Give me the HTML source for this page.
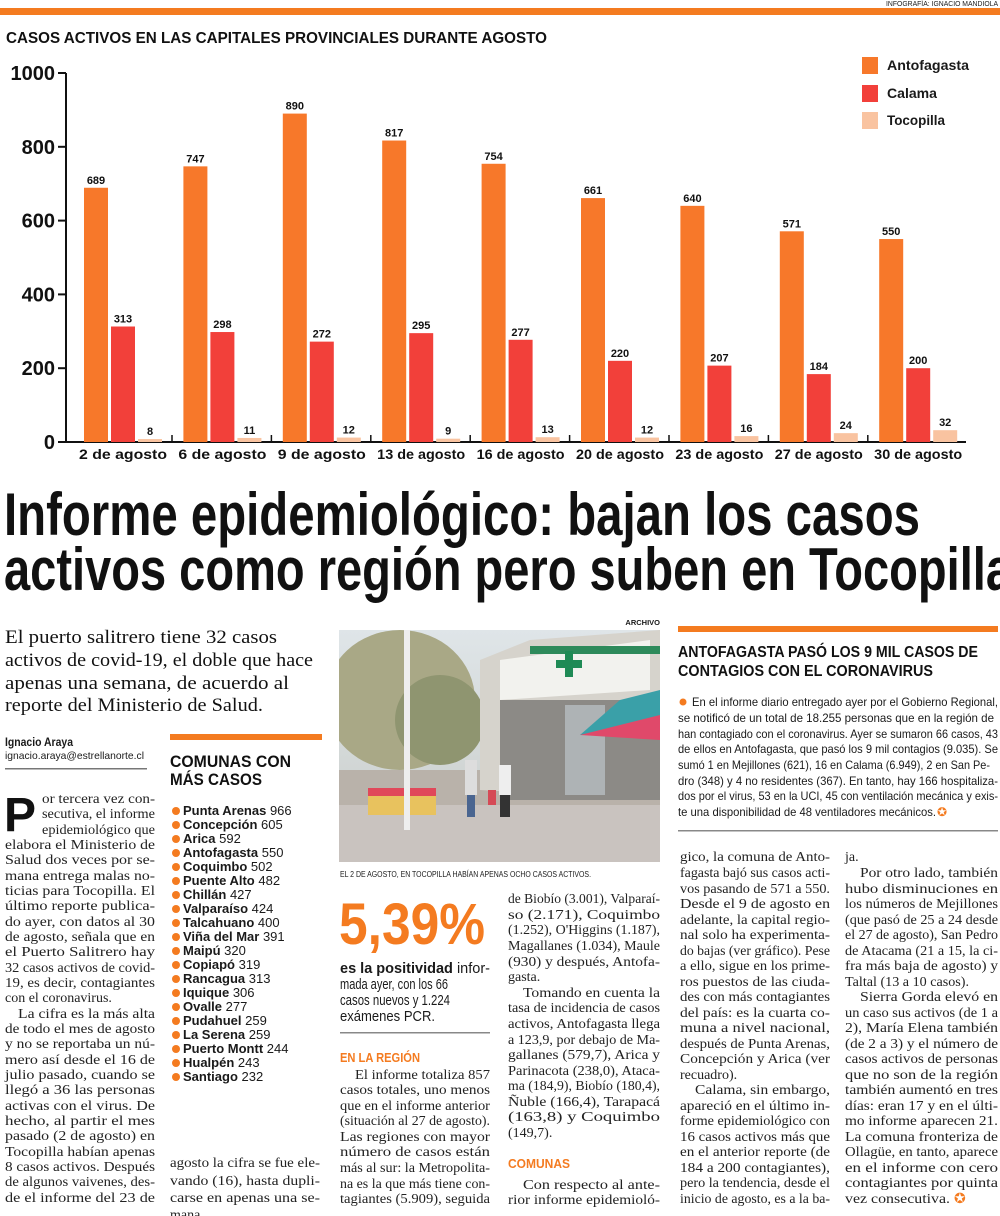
<!DOCTYPE html>
<html><head><meta charset="utf-8">
<style>
html,body{margin:0;padding:0;background:#fff;}
svg{display:block;}
.s{font-family:"Liberation Serif",serif;font-size:14px;fill:#222;}
.n{font-family:"Liberation Sans Narrow","Liberation Sans",sans-serif;fill:#1a1a1a;}
.h{font-family:"Liberation Sans",sans-serif;font-weight:bold;fill:#111;}
.b{font-weight:bold;}
.o{fill:#f47b20;}
</style></head>
<body>
<svg id="page" width="1000" height="1216" viewBox="0 0 1000 1216" xmlns="http://www.w3.org/2000/svg">
<text class="n" x="998" y="6" font-size="7" text-anchor="end" textLength="112" lengthAdjust="spacingAndGlyphs">INFOGRAFÍA: IGNACIO MANDIOLA</text>
<rect x="0" y="8" width="1000" height="7" fill="#f47b20"/>
<text class="h" x="6" y="43" font-size="16" textLength="541" lengthAdjust="spacingAndGlyphs">CASOS ACTIVOS EN LAS CAPITALES PROVINCIALES DURANTE AGOSTO</text>

<g id="chart"></g>
<g>
<g><rect x="862" y="57" width="16" height="17" fill="#f7782a"/><text class="n b" x="887" y="70" font-size="14" textLength="82" lengthAdjust="spacingAndGlyphs">Antofagasta</text></g>
<g><rect x="862" y="85" width="16" height="17" fill="#f2403a"/><text class="n b" x="887" y="98" font-size="14" textLength="50" lengthAdjust="spacingAndGlyphs">Calama</text></g>
<g><rect x="862" y="112" width="16" height="17" fill="#f9c3a0"/><text class="n b" x="887" y="125" font-size="14" textLength="58" lengthAdjust="spacingAndGlyphs">Tocopilla</text></g>
</g>

<g>
<text class="h" x="4" y="535" font-size="60" textLength="916" lengthAdjust="spacingAndGlyphs">Informe epidemiológico: bajan los casos</text>
<text class="h" x="4" y="590" font-size="60" textLength="1008" lengthAdjust="spacingAndGlyphs">activos como región pero suben en Tocopilla</text>
</g>

<g font-family="Liberation Serif,serif" font-size="19" fill="#111">
<text x="5" y="643" textLength="272" lengthAdjust="spacingAndGlyphs">El puerto salitrero tiene 32 casos</text>
<text x="5" y="666" textLength="308" lengthAdjust="spacingAndGlyphs">activos de covid-19, el doble que hace</text>
<text x="5" y="689" textLength="284" lengthAdjust="spacingAndGlyphs">apenas una semana, de acuerdo al</text>
<text x="5" y="711" textLength="258" lengthAdjust="spacingAndGlyphs">reporte del Ministerio de Salud.</text>
</g>
<text class="n b" x="5" y="746" font-size="11.5" textLength="68" lengthAdjust="spacingAndGlyphs">Ignacio Araya</text>
<text class="n" x="5" y="759" font-size="10.5" fill="#444" textLength="139" lengthAdjust="spacingAndGlyphs">ignacio.araya@estrellanorte.cl</text>
<rect x="5" y="768" width="142" height="1.5" fill="#777"/>

<g class="s">
<text x="4" y="831" font-family="Liberation Sans,sans-serif" font-weight="bold" font-size="48" fill="#111">P</text>
<text x="42" y="803" textLength="113" lengthAdjust="spacingAndGlyphs">or tercera vez con-</text>
<text x="42" y="818" textLength="113" lengthAdjust="spacingAndGlyphs">secutiva, el informe</text>
<text x="42" y="834" textLength="113" lengthAdjust="spacingAndGlyphs">epidemiológico que</text>
<text x="5" y="849" textLength="150" lengthAdjust="spacingAndGlyphs">elabora el Ministerio de</text>
<text x="5" y="864" textLength="150" lengthAdjust="spacingAndGlyphs">Salud dos veces por se-</text>
<text x="5" y="880" textLength="150" lengthAdjust="spacingAndGlyphs">mana entrega malas no-</text>
<text x="5" y="895" textLength="150" lengthAdjust="spacingAndGlyphs">ticias para Tocopilla. El</text>
<text x="5" y="910" textLength="150" lengthAdjust="spacingAndGlyphs">último reporte publica-</text>
<text x="5" y="926" textLength="150" lengthAdjust="spacingAndGlyphs">do ayer, con datos al 30</text>
<text x="5" y="941" textLength="150" lengthAdjust="spacingAndGlyphs">de agosto, señala que en</text>
<text x="5" y="956" textLength="150" lengthAdjust="spacingAndGlyphs">el Puerto Salitrero hay</text>
<text x="5" y="972" textLength="150" lengthAdjust="spacingAndGlyphs">32 casos activos de covid-</text>
<text x="5" y="987" textLength="150" lengthAdjust="spacingAndGlyphs">19, es decir, contagiantes</text>
<text x="5" y="1002">con el coronavirus.</text>
<text x="18" y="1018" textLength="137" lengthAdjust="spacingAndGlyphs">La cifra es la más alta</text>
<text x="5" y="1033" textLength="150" lengthAdjust="spacingAndGlyphs">de todo el mes de agosto</text>
<text x="5" y="1048" textLength="150" lengthAdjust="spacingAndGlyphs">y no se reportaba un nú-</text>
<text x="5" y="1064" textLength="150" lengthAdjust="spacingAndGlyphs">mero así desde el 16 de</text>
<text x="5" y="1079" textLength="150" lengthAdjust="spacingAndGlyphs">julio pasado, cuando se</text>
<text x="5" y="1094" textLength="150" lengthAdjust="spacingAndGlyphs">llegó a 36 las personas</text>
<text x="5" y="1110" textLength="150" lengthAdjust="spacingAndGlyphs">activas con el virus. De</text>
<text x="5" y="1125" textLength="150" lengthAdjust="spacingAndGlyphs">hecho, al partir el mes</text>
<text x="5" y="1140" textLength="150" lengthAdjust="spacingAndGlyphs">pasado (2 de agosto) en</text>
<text x="5" y="1156" textLength="150" lengthAdjust="spacingAndGlyphs">Tocopilla habían apenas</text>
<text x="5" y="1171" textLength="150" lengthAdjust="spacingAndGlyphs">8 casos activos. Después</text>
<text x="5" y="1186" textLength="150" lengthAdjust="spacingAndGlyphs">de algunos vaivenes, des-</text>
<text x="5" y="1202" textLength="150" lengthAdjust="spacingAndGlyphs">de el informe del 23 de</text>
</g>

<g>
<rect x="170" y="734" width="152" height="6" fill="#f47b20"/>
<text class="h" x="170" y="767" font-size="17" textLength="121" lengthAdjust="spacingAndGlyphs">COMUNAS CON</text>
<text class="h" x="170" y="785" font-size="17" textLength="92" lengthAdjust="spacingAndGlyphs">MÁS CASOS</text>
<g id="comunas" font-family="Liberation Sans Narrow,Liberation Sans,sans-serif" font-size="13" fill="#1a1a1a"></g>
</g>
<g class="s">
<text x="170" y="1167" textLength="150" lengthAdjust="spacingAndGlyphs">agosto la cifra se fue ele-</text>
<text x="170" y="1185" textLength="150" lengthAdjust="spacingAndGlyphs">vando (16), hasta dupli-</text>
<text x="170" y="1202" textLength="150" lengthAdjust="spacingAndGlyphs">carse en apenas una se-</text>
<text x="170" y="1219">mana.</text>
</g>

<text class="n b" x="660" y="625" font-size="7.5" text-anchor="end">ARCHIVO</text>
<g>
<defs><linearGradient id="sky" x1="0" y1="0" x2="0" y2="1"><stop offset="0" stop-color="#dfe5e8"/><stop offset="1" stop-color="#c8ccc8"/></linearGradient>
<clipPath id="pc"><rect x="339" y="630" width="321" height="232"/></clipPath></defs>
<g clip-path="url(#pc)">
<rect x="339" y="630" width="321" height="232" fill="url(#sky)"/>
<ellipse cx="400" cy="700" rx="75" ry="70" fill="#a9a886"/>
<ellipse cx="440" cy="720" rx="45" ry="45" fill="#8f9570"/>
<rect x="339" y="770" width="321" height="92" fill="#b9b2aa"/>
<rect x="339" y="805" width="321" height="57" fill="#c9c3bf"/>
<polygon points="480,660 530,640 660,630 660,800 480,790" fill="#d6d3cc"/>
<polygon points="500,660 650,640 650,690 500,700" fill="#f2f2ee"/>
<rect x="530" y="646" width="130" height="8" fill="#2e8a5b"/>
<rect x="565" y="651" width="8" height="26" fill="#1f8a55"/><rect x="556" y="660" width="26" height="8" fill="#1f8a55"/>
<rect x="500" y="700" width="160" height="100" fill="#8c8a86"/>
<rect x="565" y="705" width="40" height="90" fill="#aeb3b5"/>
<polygon points="580,735 620,700 660,690 660,735" fill="#3aa0a8"/>
<polygon points="580,735 660,715 660,740" fill="#e0496a"/>
<rect x="368" y="793" width="68" height="22" fill="#e8c25e"/>
<rect x="368" y="788" width="68" height="8" fill="#e0485a"/>
<rect x="404" y="630" width="6" height="200" fill="#eeeeee"/>
<rect x="465" y="760" width="12" height="35" fill="#ddd"/><rect x="467" y="795" width="8" height="22" fill="#4a6590"/>
<rect x="499" y="765" width="12" height="30" fill="#eee"/><rect x="500" y="795" width="10" height="22" fill="#333"/>
<rect x="488" y="790" width="8" height="15" fill="#d54a56"/>
</g></g>
<text class="n" x="340" y="877" font-size="8" fill="#444" textLength="251" lengthAdjust="spacingAndGlyphs">EL 2 DE AGOSTO, EN TOCOPILLA HABÍAN APENAS OCHO CASOS ACTIVOS.</text>

<text class="h o" x="339" y="944" font-size="58" textLength="146" lengthAdjust="spacingAndGlyphs" style="fill:#f47b20">5,39%</text>
<g class="n" font-size="15">
<text x="340" y="973" textLength="150" lengthAdjust="spacingAndGlyphs"><tspan font-weight="bold">es la positividad</tspan> infor-</text>
<text x="340" y="989" textLength="108" lengthAdjust="spacingAndGlyphs">mada ayer, con los 66</text>
<text x="340" y="1005" textLength="110" lengthAdjust="spacingAndGlyphs">casos nuevos y 1.224</text>
<text x="340" y="1021" textLength="95" lengthAdjust="spacingAndGlyphs">exámenes PCR.</text>
</g>
<rect x="340" y="1032" width="150" height="1.5" fill="#888"/>
<text class="n b o" x="340" y="1062" font-size="12.5" textLength="80" lengthAdjust="spacingAndGlyphs">EN LA REGIÓN</text>
<g class="s">
<text x="355" y="1079" textLength="135" lengthAdjust="spacingAndGlyphs">El informe totaliza 857</text>
<text x="340" y="1094" textLength="150" lengthAdjust="spacingAndGlyphs">casos totales, uno menos</text>
<text x="340" y="1110" textLength="150" lengthAdjust="spacingAndGlyphs">que en el informe anterior</text>
<text x="340" y="1125" textLength="150" lengthAdjust="spacingAndGlyphs">(situación al 27 de agosto).</text>
<text x="340" y="1141" textLength="150" lengthAdjust="spacingAndGlyphs">Las regiones con mayor</text>
<text x="340" y="1156" textLength="150" lengthAdjust="spacingAndGlyphs">número de casos están</text>
<text x="340" y="1172" textLength="150" lengthAdjust="spacingAndGlyphs">más al sur: la Metropolita-</text>
<text x="340" y="1188" textLength="150" lengthAdjust="spacingAndGlyphs">na es la que más tiene con-</text>
<text x="340" y="1203" textLength="150" lengthAdjust="spacingAndGlyphs">tagiantes (5.909), seguida</text>
</g>
<g class="s">
<text x="508" y="903" textLength="152" lengthAdjust="spacingAndGlyphs">de Biobío (3.001), Valparaí-</text>
<text x="508" y="919" textLength="152" lengthAdjust="spacingAndGlyphs">so (2.171), Coquimbo</text>
<text x="508" y="934" textLength="152" lengthAdjust="spacingAndGlyphs">(1.252), O'Higgins (1.187),</text>
<text x="508" y="950" textLength="152" lengthAdjust="spacingAndGlyphs">Magallanes (1.034), Maule</text>
<text x="508" y="966" textLength="152" lengthAdjust="spacingAndGlyphs">(930) y después, Antofa-</text>
<text x="508" y="981">gasta.</text>
<text x="523" y="997" textLength="137" lengthAdjust="spacingAndGlyphs">Tomando en cuenta la</text>
<text x="508" y="1012" textLength="152" lengthAdjust="spacingAndGlyphs">tasa de incidencia de casos</text>
<text x="508" y="1028" textLength="152" lengthAdjust="spacingAndGlyphs">activos, Antofagasta llega</text>
<text x="508" y="1044" textLength="152" lengthAdjust="spacingAndGlyphs">a 123,9, por debajo de Ma-</text>
<text x="508" y="1059" textLength="152" lengthAdjust="spacingAndGlyphs">gallanes (579,7), Arica y</text>
<text x="508" y="1075" textLength="152" lengthAdjust="spacingAndGlyphs">Parinacota (238,0), Ataca-</text>
<text x="508" y="1090" textLength="152" lengthAdjust="spacingAndGlyphs">ma (184,9), Biobío (180,4),</text>
<text x="508" y="1106" textLength="152" lengthAdjust="spacingAndGlyphs">Ñuble (166,4), Tarapacá</text>
<text x="508" y="1121" textLength="152" lengthAdjust="spacingAndGlyphs">(163,8) y Coquimbo</text>
<text x="508" y="1137">(149,7).</text>
<text x="508" y="1168" font-family="Liberation Sans Narrow,Liberation Sans,sans-serif" font-weight="bold" font-size="12.5" fill="#f47b20" textLength="62" lengthAdjust="spacingAndGlyphs">COMUNAS</text>
<text x="523" y="1189" textLength="137" lengthAdjust="spacingAndGlyphs">Con respecto al ante-</text>
<text x="508" y="1204" textLength="152" lengthAdjust="spacingAndGlyphs">rior informe epidemioló-</text>
</g>

<g>
<rect x="678" y="626" width="320" height="6" fill="#f47b20"/>
<text class="h" x="678" y="657" font-size="15.5" textLength="300" lengthAdjust="spacingAndGlyphs">ANTOFAGASTA PASÓ LOS 9 MIL CASOS DE</text>
<text class="h" x="678" y="676" font-size="15.5" textLength="255" lengthAdjust="spacingAndGlyphs">CONTAGIOS CON EL CORONAVIRUS</text>
<g class="n" font-size="12">
<circle cx="683" cy="702" r="3.5" fill="#f47b20"/>
<text x="692" y="706" textLength="306" lengthAdjust="spacingAndGlyphs">En el informe diario entregado ayer por el Gobierno Regional,</text>
<text x="678" y="722" textLength="316" lengthAdjust="spacingAndGlyphs">se notificó de un total de 18.255 personas que en la región de</text>
<text x="678" y="738" textLength="320" lengthAdjust="spacingAndGlyphs">han contagiado con el coronavirus. Ayer se sumaron 66 casos, 43</text>
<text x="678" y="753" textLength="320" lengthAdjust="spacingAndGlyphs">de ellos en Antofagasta, que pasó los 9 mil contagios (9.035). Se</text>
<text x="678" y="769" textLength="312" lengthAdjust="spacingAndGlyphs">sumó 1 en Mejillones (621), 16 en Calama (6.949), 2 en San Pe-</text>
<text x="678" y="785" textLength="320" lengthAdjust="spacingAndGlyphs">dro (348) y 4 no residentes (367). En tanto, hay 166 hospitaliza-</text>
<text x="678" y="800" textLength="320" lengthAdjust="spacingAndGlyphs">dos por el virus, 53 en la UCI, 45 con ventilación mecánica y exis-</text>
<text x="678" y="816" textLength="258" lengthAdjust="spacingAndGlyphs">te una disponibilidad de 48 ventiladores mecánicos.</text>
<text x="937" y="816" fill="#f47b20">✪</text>
</g>
<rect x="678" y="830" width="320" height="1.5" fill="#888"/>
</g>

<g class="s">
<text x="680" y="861" textLength="150" lengthAdjust="spacingAndGlyphs">gico, la comuna de Anto-</text>
<text x="680" y="877" textLength="150" lengthAdjust="spacingAndGlyphs">fagasta bajó sus casos acti-</text>
<text x="680" y="893" textLength="150" lengthAdjust="spacingAndGlyphs">vos pasando de 571 a 550.</text>
<text x="680" y="908" textLength="150" lengthAdjust="spacingAndGlyphs">Desde el 9 de agosto en</text>
<text x="680" y="924" textLength="150" lengthAdjust="spacingAndGlyphs">adelante, la capital regio-</text>
<text x="680" y="939" textLength="150" lengthAdjust="spacingAndGlyphs">nal solo ha experimenta-</text>
<text x="680" y="955" textLength="150" lengthAdjust="spacingAndGlyphs">do bajas (ver gráfico). Pese</text>
<text x="680" y="970" textLength="150" lengthAdjust="spacingAndGlyphs">a ello, sigue en los prime-</text>
<text x="680" y="986" textLength="150" lengthAdjust="spacingAndGlyphs">ros puestos de las ciuda-</text>
<text x="680" y="1001" textLength="150" lengthAdjust="spacingAndGlyphs">des con más contagiantes</text>
<text x="680" y="1017" textLength="150" lengthAdjust="spacingAndGlyphs">del país: es la cuarta co-</text>
<text x="680" y="1032" textLength="150" lengthAdjust="spacingAndGlyphs">muna a nivel nacional,</text>
<text x="680" y="1048" textLength="150" lengthAdjust="spacingAndGlyphs">después de Punta Arenas,</text>
<text x="680" y="1063" textLength="150" lengthAdjust="spacingAndGlyphs">Concepción y Arica (ver</text>
<text x="680" y="1079">recuadro).</text>
<text x="695" y="1094" textLength="135" lengthAdjust="spacingAndGlyphs">Calama, sin embargo,</text>
<text x="680" y="1110" textLength="150" lengthAdjust="spacingAndGlyphs">apareció en el último in-</text>
<text x="680" y="1125" textLength="150" lengthAdjust="spacingAndGlyphs">forme epidemiológico con</text>
<text x="680" y="1141" textLength="150" lengthAdjust="spacingAndGlyphs">16 casos activos más que</text>
<text x="680" y="1156" textLength="150" lengthAdjust="spacingAndGlyphs">en el anterior reporte (de</text>
<text x="680" y="1172" textLength="150" lengthAdjust="spacingAndGlyphs">184 a 200 contagiantes),</text>
<text x="680" y="1187" textLength="150" lengthAdjust="spacingAndGlyphs">pero la tendencia, desde el</text>
<text x="680" y="1203" textLength="150" lengthAdjust="spacingAndGlyphs">inicio de agosto, es a la ba-</text>
</g>
<g class="s">
<text x="845" y="861">ja.</text>
<text x="860" y="877" textLength="138" lengthAdjust="spacingAndGlyphs">Por otro lado, también</text>
<text x="845" y="893" textLength="153" lengthAdjust="spacingAndGlyphs">hubo disminuciones en</text>
<text x="845" y="908" textLength="153" lengthAdjust="spacingAndGlyphs">los números de Mejillones</text>
<text x="845" y="924" textLength="153" lengthAdjust="spacingAndGlyphs">(que pasó de 25 a 24 desde</text>
<text x="845" y="939" textLength="153" lengthAdjust="spacingAndGlyphs">el 27 de agosto), San Pedro</text>
<text x="845" y="955" textLength="153" lengthAdjust="spacingAndGlyphs">de Atacama (21 a 15, la ci-</text>
<text x="845" y="970" textLength="153" lengthAdjust="spacingAndGlyphs">fra más baja de agosto) y</text>
<text x="845" y="986" textLength="124" lengthAdjust="spacingAndGlyphs">Taltal (13 a 10 casos).</text>
<text x="860" y="1001" textLength="138" lengthAdjust="spacingAndGlyphs">Sierra Gorda elevó en</text>
<text x="845" y="1017" textLength="153" lengthAdjust="spacingAndGlyphs">un caso sus activos (de 1 a</text>
<text x="845" y="1032" textLength="153" lengthAdjust="spacingAndGlyphs">2), María Elena también</text>
<text x="845" y="1048" textLength="153" lengthAdjust="spacingAndGlyphs">(de 2 a 3) y el número de</text>
<text x="845" y="1063" textLength="153" lengthAdjust="spacingAndGlyphs">casos activos de personas</text>
<text x="845" y="1079" textLength="153" lengthAdjust="spacingAndGlyphs">que no son de la región</text>
<text x="845" y="1094" textLength="153" lengthAdjust="spacingAndGlyphs">también aumentó en tres</text>
<text x="845" y="1110" textLength="153" lengthAdjust="spacingAndGlyphs">días: eran 17 y en el últi-</text>
<text x="845" y="1125" textLength="153" lengthAdjust="spacingAndGlyphs">mo informe aparecen 21.</text>
<text x="845" y="1141" textLength="153" lengthAdjust="spacingAndGlyphs">La comuna fronteriza de</text>
<text x="845" y="1156" textLength="153" lengthAdjust="spacingAndGlyphs">Ollagüe, en tanto, aparece</text>
<text x="845" y="1172" textLength="153" lengthAdjust="spacingAndGlyphs">en el informe con cero</text>
<text x="845" y="1187" textLength="153" lengthAdjust="spacingAndGlyphs">contagiantes por quinta</text>
<text x="845" y="1203" textLength="105" lengthAdjust="spacingAndGlyphs">vez consecutiva.</text>
<text x="954" y="1203" fill="#f47b20">✪</text>
</g>
</svg>
<script>
const categories = ["2 de agosto","6 de agosto","9 de agosto","13 de agosto","16 de agosto","20 de agosto","23 de agosto","27 de agosto","30 de agosto"];
const antofagasta = [689,747,890,817,754,661,640,571,550];
const calama = [313,298,272,295,277,220,207,184,200];
const tocopilla = [8,11,12,9,13,12,16,24,32];
const yTicks = [0,200,400,600,800,1000];
const comunaNames = ["Punta Arenas","Concepción","Arica","Antofagasta","Coquimbo","Puente Alto","Chillán","Valparaíso","Talcahuano","Viña del Mar","Maipú","Copiapó","Rancagua","Iquique","Ovalle","Pudahuel","La Serena","Puerto Montt","Hualpén","Santiago"];
const comunaValues = [966,605,592,550,502,482,427,424,400,391,320,319,313,306,277,259,259,244,243,232];

const NS = "http://www.w3.org/2000/svg";
const chart = document.getElementById('chart');
const y0 = 442, yTop = 73, xAxis = 66, gx0 = 84, gStep = 99.4, bw = 24, bGap = 27;
function yScale(v){ return y0 - (v/1000)*(y0-yTop); }
function mk(tag, attrs, parent){ const e=document.createElementNS(NS,tag); for(const k in attrs) e.setAttribute(k,attrs[k]); parent.appendChild(e); return e; }

const axisY = mk('line',{x1:xAxis,y1:yTop,x2:xAxis,y2:y0,stroke:'#111','stroke-width':2},chart);


const axisX = mk('line',{x1:58,y1:y0,x2:966,y2:y0,stroke:'#111','stroke-width':2},chart);


yTicks.forEach(t=>{
  const y=yScale(t);
  const tk = mk('line',{x1:58,y1:y,x2:xAxis,y2:y,stroke:'#111','stroke-width':2},chart);
  
  
  const lb = mk('text',{x:55,y:y+7,'text-anchor':'end','font-family':'Liberation Sans,sans-serif','font-weight':'bold','font-size':20,fill:'#111'},chart);
  
  
  lb.textContent=t;
});
const series=[antofagasta,calama,tocopilla], colors=['#f7782a','#f2403a','#f9c3a0'], sNames=['antofagasta','calama','tocopilla'];
categories.forEach((c,i)=>{
  const gx=gx0+i*gStep;
  series.forEach((s,j)=>{
    const x=gx+j*bGap, y=yScale(s[i]);
    const r=mk('rect',{x:x,y:y,width:bw,height:y0-y,fill:colors[j]},chart);
    
    
    const t=mk('text',{x:x+bw/2,y:y-4,'text-anchor':'middle','font-family':'Liberation Sans,sans-serif','font-weight':'bold','font-size':11,fill:'#111'},chart);
    
    
    t.textContent=s[i];
  });
  const cl=mk('text',{x:gx+39,y:y0+17,'text-anchor':'middle','font-family':'Liberation Sans,sans-serif','font-size':13.5,'font-weight':'bold',fill:'#111',textLength:88,lengthAdjust:'spacingAndGlyphs'},chart);
  
  
  cl.textContent=c;
  if(i<categories.length-1){
    const tk=mk('line',{x1:gx+88,y1:y0-7,x2:gx+88,y2:y0,stroke:'#111','stroke-width':1.5},chart);
    
    
  }
});
const cg=document.getElementById('comunas');
comunaNames.forEach((n,i)=>{
  const y=815+i*14;
  const d=mk('circle',{cx:176,cy:y-4,r:4,fill:'#f47b20'},cg);
  
  
  const t=mk('text',{x:183,y:y},cg);
  
  
  const b=mk('tspan',{'font-weight':'bold'},t); b.textContent=n;
  const v=mk('tspan',{},t); v.textContent=' '+comunaValues[i];
});
</script>
</body></html>
